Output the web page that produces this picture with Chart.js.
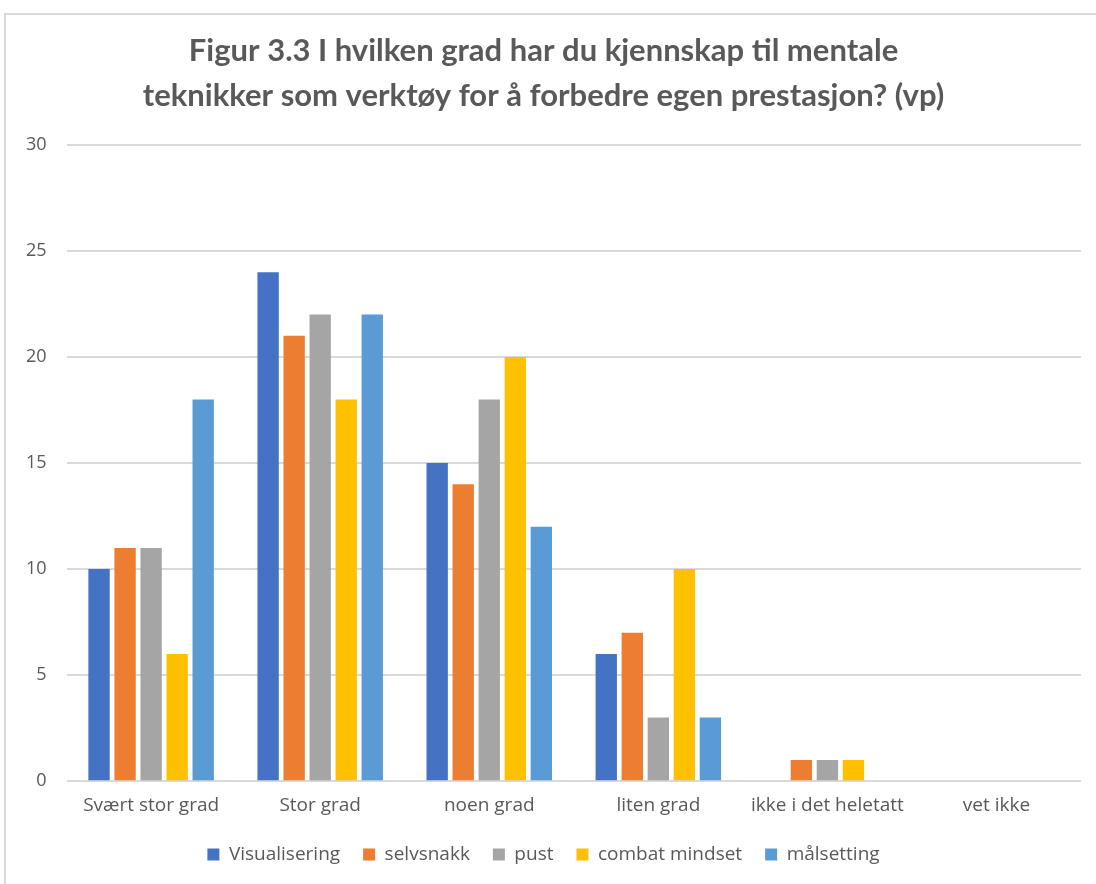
<!DOCTYPE html>
<html>
<head>
<meta charset="utf-8">
<script src="https://cdn.jsdelivr.net/npm/chart.js@4.4.1/dist/chart.umd.min.js"></script>
<style>
  html, body { margin: 0; padding: 0; background: #ffffff; overflow: hidden; }
  #frame {
    position: absolute; left: 4px; top: 13px; width: 1100px; height: 880px;
    border-top: 2px solid #d9d9d9; border-left: 2px solid #d9d9d9; box-sizing: border-box;
  }
  #wrap { position: absolute; left: 0; top: 0; width: 1090px; height: 869px; }
</style>
</head>
<body>
<div id="frame"><div id="wrap"><canvas id="c"></canvas></div></div>
<script>
const categories = ["Svært stor grad", "Stor grad", "noen grad", "liten grad", "ikke i det heletatt", "vet ikke"];
const visualisering = [10, 24, 15, 6, 0, 0];
const selvsnakk     = [11, 21, 14, 7, 1, 0];
const pust          = [11, 22, 18, 3, 1, 0];
const combatMindset = [6, 18, 20, 10, 1, 0];
const malsetting    = [18, 22, 12, 3, 0, 0];
const yTicks = [0, 5, 10, 15, 20, 25, 30];
const titleLines = ["Figur 3.3 I hvilken grad har du kjennskap til mentale",
                    "teknikker som verktøy for å forbedre egen prestasjon? (vp)"];

const mk = (label, data, color) => ({
  label, data, backgroundColor: color, borderWidth: 0,
  categoryPercentage: 0.77, barPercentage: 0.82
});

new Chart(document.getElementById('c'), {
  type: 'bar',
  data: {
    labels: categories,
    datasets: [
      mk("Visualisering", visualisering, "#4472C4"),
      mk("selvsnakk", selvsnakk, "#ED7D31"),
      mk("pust", pust, "#A5A5A5"),
      mk("combat mindset", combatMindset, "#FFC000"),
      mk("målsetting", malsetting, "#5B9BD5")
    ]
  },
  options: {
    responsive: true,
    maintainAspectRatio: false,
    animation: false,
    layout: { padding: { left: 0, right: 15, top: 8, bottom: 10 } },
    plugins: {
      title: {
        display: true,
        text: titleLines,
        color: "#595959",
        font: { family: "Lato", size: 31, weight: "bold", lineHeight: 1.45 },
        padding: { top: 6, bottom: 26 }
      },
      legend: {
        position: 'bottom',
        labels: {
          color: "#595959",
          font: { family: "Open Sans", size: 19 },
          boxWidth: 12, boxHeight: 12, padding: 23
        }
      },
      tooltip: { enabled: false }
    },
    scales: {
      x: {
        grid: { display: false },
        border: { display: false },
        ticks: { color: "#595959", font: { family: "Open Sans", size: 19 }, padding: 5, maxRotation: 0 }
      },
      y: {
        min: 0, max: 30,
        afterBuildTicks: (axis) => { axis.ticks = yTicks.map(v => ({ value: v })); },
        grid: { color: "#d9d9d9", lineWidth: 2, drawTicks: false },
        border: { display: false },
        ticks: { color: "#595959", font: { family: "Open Sans", size: 18 }, padding: 20 }
      }
    }
  }
});
</script>
</body>
</html>
